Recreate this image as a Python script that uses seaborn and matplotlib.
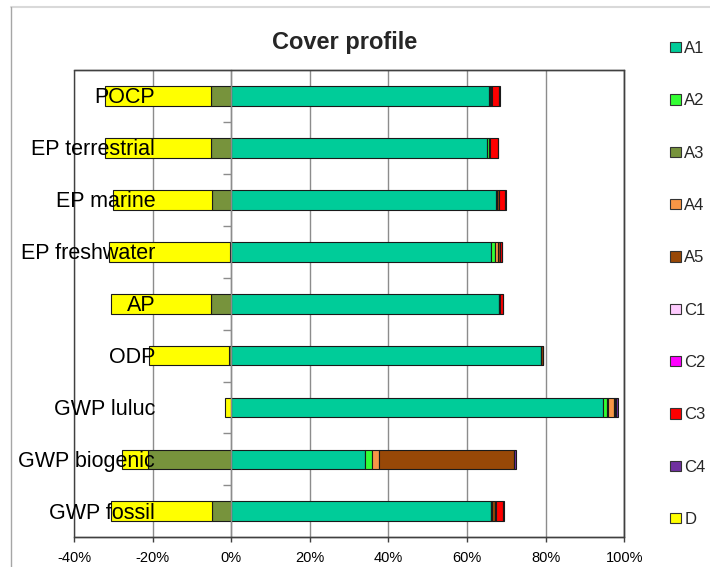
import numpy as np
import pandas as pd
import matplotlib
matplotlib.use("Agg")
import matplotlib.pyplot as plt
import matplotlib.transforms as mtransforms
from matplotlib.patches import Rectangle, Patch
from matplotlib.lines import Line2D
from matplotlib.ticker import FixedLocator, PercentFormatter, NullFormatter
import seaborn as sns

# Impact categories, top to bottom
categories = ["POCP", "EP terrestrial", "EP marine", "EP freshwater", "AP",
              "ODP", "GWP luluc", "GWP biogenic", "GWP fossil"]

# Share of each life-cycle module per impact category (%)
a1 = [65.7, 65.1, 67.4, 66.1, 68.0, 78.7, 94.7, 34.0, 66.0]
a2 = [0.1, 0.5, 0.1, 1.1, 0.1, 0.1, 0.8, 1.7, 0.2]
a3 = [-5.2, -5.1, -4.8, -0.4, -5.2, -0.6, 0.4, -21.3, -4.9]
a4 = [0.0, 0.0, 0.0, 0.7, 0.0, 0.0, 1.5, 1.9, 0.2]
a5 = [0.4, 0.1, 0.5, 0.4, 0.3, 0.4, 0.3, 34.4, 0.8]
c1 = [0.1, 0.1, 0.1, 0.1, 0.1, 0.1, 0.1, 0.0, 0.1]
c2 = [0.0, 0.0, 0.0, 0.0, 0.0, 0.0, 0.0, 0.0, 0.0]
c3 = [1.9, 2.0, 1.6, 0.5, 0.6, 0.0, 0.2, 0.0, 1.8]
c4 = [0.1, 0.1, 0.1, 0.1, 0.1, 0.1, 0.3, 0.5, 0.2]
d = [-26.8, -27.1, -25.4, -30.6, -25.5, -20.2, -1.7, -6.4, -25.8]

module_names = ["A1", "A2", "A3", "A4", "A5", "C1", "C2", "C3", "C4", "D"]
module_values = [a1, a2, a3, a4, a5, c1, c2, c3, c4, d]
module_colors = ["#00CC99", "#33FF33", "#77933C", "#F79646", "#984807",
                 "#FFCCFF", "#FF00FF", "#FF0000", "#7030A0", "#FFFF00"]

x_ticks = [-40, -20, 0, 20, 40, 60, 80, 100]

df = pd.DataFrame({"category": categories})
for name, vals in zip(module_names, module_values):
    df[name] = vals

sns.set_style("white")
plt.rcParams["font.family"] = ["Liberation Sans", "DejaVu Sans"]
plt.rcParams["axes.unicode_minus"] = False

fig = plt.figure(figsize=(7.1, 5.67), dpi=100)
ax = fig.add_axes([74 / 710, 1 - 537.3 / 567, (624.3 - 74) / 710, (537.3 - 70) / 567])

edge = "#1a1a1a"
grid_gray = "#8c8c8c"
frame_gray = "#404040"

# Stack positives to the right of zero and negatives to the left
pos_base = np.zeros(len(categories))
neg_base = np.zeros(len(categories))
for name, color in zip(module_names, module_colors):
    vals = df[name].to_numpy(dtype=float)
    left = np.where(vals >= 0, pos_base, neg_base)
    sns.barplot(data=df, x=name, y="category", orient="h", color=color,
                saturation=1, width=0.38, errorbar=None, left=left,
                edgecolor=edge, linewidth=0.8, ax=ax)
    pos_base += np.clip(vals, 0, None)
    neg_base += np.clip(vals, None, 0)

# hide empty segments so they do not leave an outline behind
for p in ax.patches:
    if abs(p.get_width()) < 1e-9:
        p.set_visible(False)

ax.set_xlim(-40, 100)
ax.set_ylim(len(categories) - 0.5, -0.5)
ax.set_xlabel("")
ax.set_ylabel("")

ax.set_xticks(x_ticks)
ax.xaxis.set_major_formatter(PercentFormatter(decimals=0))
ax.set_axisbelow(True)
ax.grid(axis="x", color=grid_gray, linewidth=1)
ax.grid(axis="y", visible=False)

# category axis sits on the zero line
ax.spines["left"].set_position(("data", 0))
ax.spines["left"].set_color(grid_gray)
ax.spines["left"].set_linewidth(1)
for s in ["top", "right", "bottom"]:
    ax.spines[s].set_color(frame_gray)
    ax.spines[s].set_linewidth(1)
ax.add_patch(Rectangle((0, 0), 1, 1, transform=ax.transAxes, fill=False,
                       edgecolor=frame_gray, linewidth=1, clip_on=False, zorder=3))

ax.set_yticks(range(len(categories)))
ax.yaxis.set_major_formatter(NullFormatter())
ax.yaxis.set_minor_locator(FixedLocator(np.arange(0.5, len(categories) - 1, 1)))
ax.tick_params(axis="y", which="major", length=0)
ax.tick_params(axis="y", which="minor", left=True, length=5.5, width=1,
               color=grid_gray, direction="out")
ax.tick_params(axis="x", which="major", bottom=True, length=3.6, width=1,
               color=frame_gray, direction="out", pad=6, labelsize=10.5,
               labelcolor="#000000")

# category names are written over the bars, right-aligned left of the zero line
label_trans = mtransforms.offset_copy(ax.transData, fig=fig, x=-76, y=-2, units="dots")
for i, cat in enumerate(categories):
    ax.text(0, i, cat, transform=label_trans, ha="right", va="center",
            fontsize=15.5, color="#000000", zorder=5)

fig.text(345 / 710, 1 - 42 / 567, "Cover profile", ha="center", va="center",
         fontsize=17, fontweight="bold")

handles = [Patch(facecolor=c, edgecolor="#333333", linewidth=0.8, label=n)
           for n, c in zip(module_names, module_colors)]
fig.legend(handles=handles, loc="upper left", bbox_to_anchor=(670 / 710, 1 - 41 / 567),
           frameon=False, fontsize=12, labelspacing=2.24, handlelength=0.65,
           handleheight=0.6, handletextpad=0.2, borderaxespad=0, borderpad=0)

# outer chart border
fig.add_artist(Line2D([11 / 710, 1], [1 - 7 / 567, 1 - 7 / 567], color="#d9d9d9", linewidth=1.5))
fig.add_artist(Line2D([11 / 710, 11 / 710], [0, 1 - 7 / 567], color="#a6a6a6", linewidth=1))

fig.savefig("out.png", dpi=100)
